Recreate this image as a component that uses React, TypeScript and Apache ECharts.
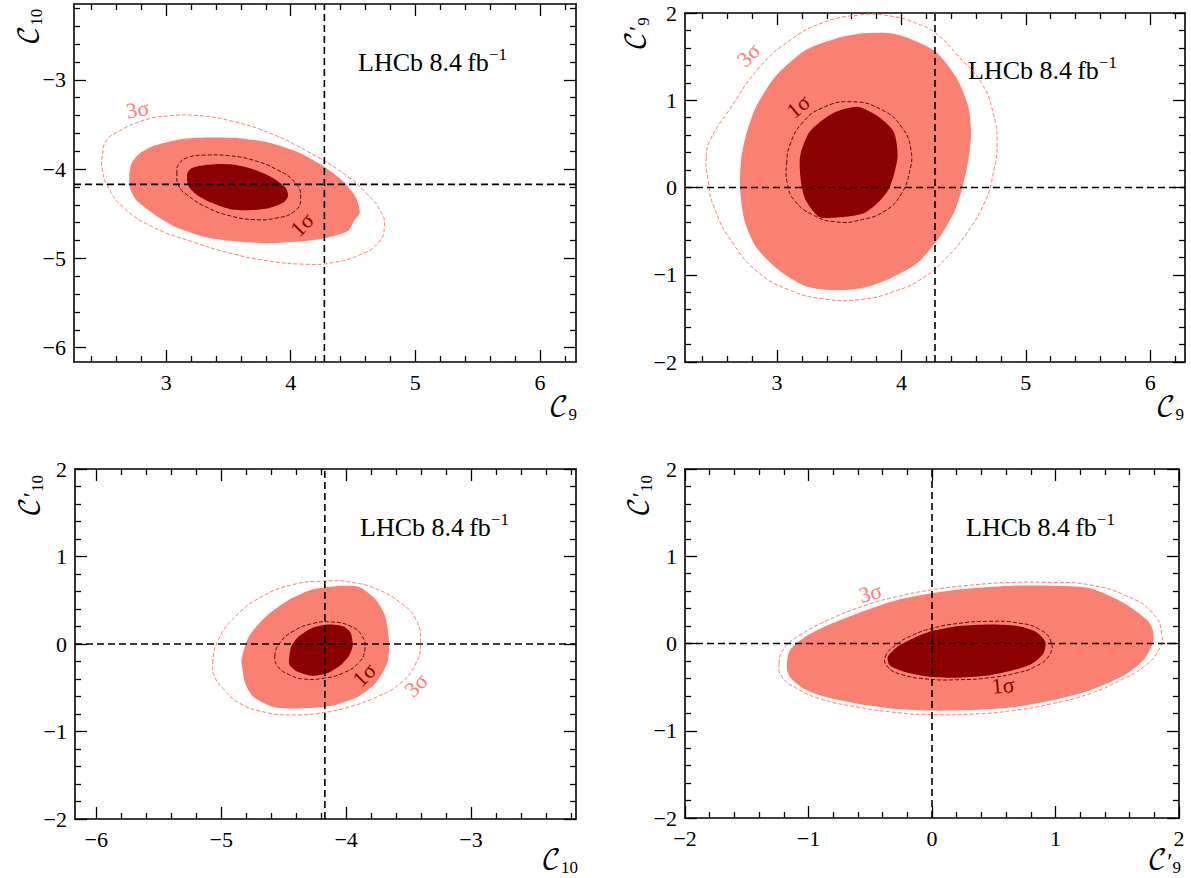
import React, { useEffect, useRef } from "react";
import * as echarts from "echarts";

const SERIF = "Liberation Serif, Times New Roman, DejaVu Serif, serif";
const MATH = "DejaVu Math TeX Gyre, DejaVu Serif, DejaVu Sans, serif";
const CAL = "\u{1D49E}";

// ---------- axis ranges & ticks ----------
const P1_X_RANGE = [2.26, 6.29];
const P1_Y_RANGE = [-6.16, -2.15];
const P2_X_RANGE = [2.26, 6.28];
const P2_Y_RANGE = [-2, 2];
const P3_X_RANGE = [-6.17, -2.16];
const P3_Y_RANGE = [-2, 2];
const P4_X_RANGE = [-2, 2];
const P4_Y_RANGE = [-2, 2];

const P1_X_TICKS = [3, 4, 5, 6];
const P1_Y_TICKS = [-6, -5, -4, -3];
const P2_X_TICKS = [3, 4, 5, 6];
const P2_Y_TICKS = [-2, -1, 0, 1, 2];
const P3_X_TICKS = [-6, -5, -4, -3];
const P3_Y_TICKS = [-2, -1, 0, 1, 2];
const P4_X_TICKS = [-2, -1, 0, 1, 2];
const P4_Y_TICKS = [-2, -1, 0, 1, 2];
const MINOR_STEP = 0.2;

// SM reference values
const SM_C9 = 4.27;
const SM_C10 = -4.17;
const SM_C9P = 0;
const SM_C10P = 0;

// ---------- Panel 1: C9 vs C10 ----------
const p1Fill1 = [[3.168,-4.056],[3.193,-4.0],[3.269,-3.963],[3.391,-3.944],[3.544,-3.951],[3.697,-4.0],[3.85,-4.093],[3.957,-4.205],[3.979,-4.299],[3.942,-4.374],[3.82,-4.437],[3.667,-4.459],[3.514,-4.448],[3.361,-4.374],[3.239,-4.28],[3.177,-4.187]];
const p1Line1 = [[3.086,-4.056],[3.101,-3.944],[3.177,-3.869],[3.3,-3.843],[3.514,-3.851],[3.697,-3.899],[3.881,-4.0],[4.034,-4.149],[4.08,-4.318],[4.034,-4.467],[3.881,-4.549],[3.697,-4.564],[3.514,-4.523],[3.33,-4.43],[3.177,-4.299],[3.101,-4.187]];
const p1Fill2 = [[2.703,-4.093],[2.719,-3.944],[2.78,-3.832],[2.902,-3.739],[3.116,-3.664],[3.33,-3.645],[3.575,-3.653],[3.82,-3.701],[4.064,-3.813],[4.278,-3.981],[4.431,-4.149],[4.523,-4.318],[4.554,-4.486],[4.508,-4.579],[4.462,-4.691],[4.278,-4.773],[4.064,-4.811],[3.82,-4.829],[3.575,-4.811],[3.33,-4.766],[3.086,-4.654],[2.902,-4.504],[2.765,-4.355],[2.713,-4.224]];
const p1Line3 = [[2.489,-3.832],[2.52,-3.682],[2.627,-3.57],[2.81,-3.458],[3.024,-3.402],[3.269,-3.402],[3.514,-3.458],[3.82,-3.589],[4.125,-3.795],[4.431,-4.056],[4.615,-4.28],[4.72,-4.467],[4.752,-4.63],[4.706,-4.82],[4.554,-4.96],[4.339,-5.046],[4.125,-5.065],[3.82,-5.027],[3.514,-4.941],[3.208,-4.811],[2.902,-4.654],[2.657,-4.43],[2.535,-4.205],[2.489,-4.019]];

// ---------- Panel 2: C9 vs C9' ----------
const p2Fill1 = [[3.185,0.352],[3.262,0.639],[3.446,0.849],[3.646,0.925],[3.815,0.811],[3.938,0.639],[3.969,0.352],[3.908,0.008],[3.831,-0.145],[3.692,-0.298],[3.477,-0.344],[3.338,-0.337],[3.231,-0.145],[3.194,0.046]];
const p2Line1 = [[3.077,0.275],[3.108,0.505],[3.2,0.734],[3.354,0.906],[3.6,0.983],[3.846,0.887],[4.0,0.696],[4.077,0.428],[4.062,0.161],[4.0,-0.069],[3.877,-0.26],[3.662,-0.375],[3.477,-0.394],[3.292,-0.317],[3.138,-0.145],[3.083,0.046]];
const p2Fill2 = [[2.702,0.008],[2.714,0.352],[2.754,0.619],[2.831,0.925],[2.985,1.27],[3.231,1.576],[3.477,1.709],[3.692,1.767],[3.908,1.767],[4.062,1.709],[4.277,1.556],[4.446,1.25],[4.538,0.925],[4.56,0.619],[4.538,0.314],[4.492,0.008],[4.431,-0.26],[4.308,-0.566],[4.123,-0.872],[3.877,-1.063],[3.662,-1.159],[3.446,-1.178],[3.231,-1.132],[3.015,-0.948],[2.831,-0.681],[2.738,-0.375]];
const p2Line3 = [[2.431,0.352],[2.462,0.543],[2.615,0.887],[2.862,1.384],[3.108,1.69],[3.354,1.881],[3.662,1.977],[3.908,1.966],[4.123,1.881],[4.277,1.767],[4.462,1.499],[4.646,1.193],[4.738,0.849],[4.769,0.505],[4.738,0.161],[4.677,-0.145],[4.523,-0.528],[4.369,-0.795],[4.185,-1.025],[3.969,-1.178],[3.662,-1.285],[3.354,-1.273],[3.108,-1.178],[2.862,-0.987],[2.646,-0.642],[2.492,-0.222],[2.446,0.084]];

// ---------- Panel 3: C10 vs C10' ----------
const p3Fill1 = [[-4.454,-0.141],[-4.439,-0.027],[-4.378,0.088],[-4.27,0.183],[-4.147,0.222],[-4.025,0.202],[-3.963,0.126],[-3.948,-0.027],[-3.979,-0.141],[-4.04,-0.237],[-4.147,-0.332],[-4.27,-0.363],[-4.393,-0.313],[-4.454,-0.237]];
const p3Line1 = [[-4.571,-0.141],[-4.531,0.011],[-4.424,0.145],[-4.27,0.233],[-4.117,0.252],[-3.963,0.202],[-3.871,0.088],[-3.85,-0.065],[-3.902,-0.218],[-4.025,-0.332],[-4.178,-0.39],[-4.332,-0.401],[-4.454,-0.351],[-4.547,-0.256]];
const p3Fill2 = [[-4.838,-0.18],[-4.777,0.088],[-4.639,0.317],[-4.454,0.508],[-4.27,0.623],[-4.086,0.661],[-3.902,0.653],[-3.764,0.508],[-3.687,0.317],[-3.656,0.011],[-3.671,-0.218],[-3.764,-0.447],[-3.902,-0.6],[-4.117,-0.707],[-4.332,-0.734],[-4.577,-0.722],[-4.746,-0.6],[-4.808,-0.447],[-4.829,-0.294]];
const p3Line3 = [[-5.068,-0.218],[-5.022,0.05],[-4.884,0.317],[-4.669,0.546],[-4.424,0.68],[-4.178,0.718],[-3.963,0.707],[-3.748,0.623],[-3.564,0.47],[-3.441,0.279],[-3.404,0.011],[-3.441,-0.218],[-3.564,-0.447],[-3.748,-0.6],[-3.963,-0.714],[-4.178,-0.783],[-4.393,-0.81],[-4.639,-0.783],[-4.854,-0.676],[-4.976,-0.523],[-5.053,-0.371]];

// ---------- Panel 4: C9' vs C10' ----------
const p4Fill1 = [[-0.358,-0.154],[-0.28,-0.038],[-0.156,0.058],[0,0.142],[0.218,0.2],[0.467,0.219],[0.684,0.204],[0.84,0.135],[0.918,0.019],[0.902,-0.115],[0.809,-0.231],[0.653,-0.308],[0.467,-0.365],[0.218,-0.392],[0,-0.385],[-0.218,-0.327],[-0.342,-0.25]];
const p4Line1 = [[-0.379,-0.154],[-0.295,-0.019],[-0.156,0.096],[0,0.173],[0.218,0.231],[0.467,0.254],[0.684,0.238],[0.871,0.162],[0.964,0.019],[0.949,-0.135],[0.84,-0.262],[0.684,-0.338],[0.467,-0.392],[0.218,-0.415],[-0.031,-0.408],[-0.249,-0.354],[-0.358,-0.269]];
const p4Fill2 = [[-1.176,-0.269],[-1.151,-0.077],[-1.026,0.077],[-0.809,0.231],[-0.529,0.385],[-0.28,0.5],[0,0.577],[0.342,0.635],[0.653,0.662],[0.964,0.662],[1.275,0.635],[1.555,0.462],[1.742,0.269],[1.788,0.154],[1.788,0],[1.711,-0.192],[1.555,-0.365],[1.275,-0.538],[0.964,-0.654],[0.653,-0.731],[0.342,-0.762],[0,-0.769],[-0.28,-0.75],[-0.591,-0.692],[-0.902,-0.596],[-1.058,-0.5],[-1.151,-0.385]];
const p4Line3 = [[-1.238,-0.231],[-1.198,-0.058],[-1.089,0.077],[-0.84,0.269],[-0.529,0.442],[-0.28,0.538],[0,0.615],[0.342,0.673],[0.653,0.7],[0.964,0.7],[1.275,0.673],[1.586,0.538],[1.788,0.346],[1.86,0.115],[1.835,-0.077],[1.711,-0.269],[1.524,-0.423],[1.275,-0.577],[0.964,-0.692],[0.653,-0.769],[0.342,-0.808],[0,-0.815],[-0.28,-0.792],[-0.591,-0.731],[-0.902,-0.635],[-1.089,-0.519],[-1.213,-0.385]];

// sigma label anchors [x, y, rotationDeg, text]
const p1Labels = [[2.77, -3.33, 10, "3σ"], [4.09, -4.62, 45, "1σ"]];
const p2Labels = [[2.77, 1.52, 45, "3σ"], [3.17, 0.93, 40, "1σ"]];
const p3Labels = [[-3.855, -0.35, 45, "1σ"], [-3.44, -0.47, 45, "3σ"]];
const p4Labels = [[-0.5, 0.58, 15, "3σ"], [0.575, -0.48, 5, "1σ"]];

const COL_DARK = "#8b0000";
const COL_SALMON = "#fa8072";
const COL_L1 = "#5a0a0a";
const COL_L3 = "#f7806f";

const GRIDS = [
  { left: 74, top: 4, width: 502, height: 358 },
  { left: 685, top: 13, width: 500, height: 349 },
  { left: 75, top: 469, width: 501, height: 350 },
  { left: 685, top: 469, width: 494, height: 349 },
];

function minorTicks(range: number[], majors: number[]) {
  const out: number[] = [];
  const start = Math.ceil(range[0] / MINOR_STEP - 1e-9);
  const end = Math.floor(range[1] / MINOR_STEP + 1e-9);
  for (let k = start; k <= end; k++) {
    const v = Math.round(k * MINOR_STEP * 1000) / 1000;
    if (!majors.some((m) => Math.abs(m - v) < 1e-6)) out.push(v);
  }
  return out;
}

const fmt = (v: number) => "{t|" + (v < 0 ? "\u2212" + String(Math.abs(v)) : String(v)) + "}";

function axisSet(isX: boolean, gridIndex: number, range: number[], majors: number[]) {
  const minors = minorTicks(range, majors);
  const base = {
    type: "value",
    gridIndex,
    min: range[0],
    max: range[1],
    splitLine: { show: false },
  };
  const line = { show: true, onZero: false, lineStyle: { color: "#000", width: 1.6 } };
  const noLine = { show: false, onZero: false };
  const tickStyle = { color: "#000", width: 1.3 };
  const pos1 = isX ? "bottom" : "left";
  const pos2 = isX ? "top" : "right";
  return [
    {
      ...base,
      position: pos1,
      axisLine: line,
      axisTick: { show: true, inside: true, length: 12, customValues: majors, lineStyle: tickStyle },
      axisLabel: {
        show: true,
        customValues: majors,
        formatter: fmt,
        color: "#000",
        fontFamily: SERIF,
        fontSize: 22,
        margin: 8,
        hideOverlap: false,
        rich: { t: { fontFamily: SERIF, fontSize: 22, color: "#000", lineHeight: 24 } },
      },
    },
    {
      ...base,
      position: pos1,
      axisLine: noLine,
      axisTick: { show: true, inside: true, length: 6, customValues: minors, lineStyle: tickStyle },
      axisLabel: { show: false },
    },
    {
      ...base,
      position: pos2,
      axisLine: line,
      axisTick: { show: true, inside: true, length: 12, customValues: majors, lineStyle: tickStyle },
      axisLabel: { show: false },
    },
    {
      ...base,
      position: pos2,
      axisLine: noLine,
      axisTick: { show: true, inside: true, length: 6, customValues: minors, lineStyle: tickStyle },
      axisLabel: { show: false },
    },
  ];
}

function polySeries(gi: number, pts: number[][], style: any, smooth: number, z: number) {
  return {
    type: "custom",
    xAxisIndex: gi * 4,
    yAxisIndex: gi * 4,
    data: [pts[0]],
    z,
    silent: true,
    renderItem: (_p: any, api: any) => ({
      type: "polygon",
      shape: { points: pts.map((p) => api.coord(p)), smooth },
      style,
    }),
  };
}

function crossSeries(gi: number, xr: number[], yr: number[], xv: number, yv: number) {
  return {
    type: "custom",
    xAxisIndex: gi * 4,
    yAxisIndex: gi * 4,
    data: [[xv, yv]],
    z: 10,
    silent: true,
    renderItem: (_p: any, api: any) => {
      const a = api.coord([xv, yr[0]]);
      const b = api.coord([xv, yr[1]]);
      const c = api.coord([xr[0], yv]);
      const d = api.coord([xr[1], yv]);
      const st = { stroke: "#000", lineWidth: 1.6, lineDash: [7, 4], fill: "none" };
      return {
        type: "group",
        children: [
          { type: "line", shape: { x1: a[0], y1: a[1], x2: b[0], y2: b[1] }, style: st },
          { type: "line", shape: { x1: c[0], y1: c[1], x2: d[0], y2: d[1] }, style: st },
        ],
      };
    },
  };
}

function labelSeries(gi: number, labels: any[]) {
  return {
    type: "custom",
    xAxisIndex: gi * 4,
    yAxisIndex: gi * 4,
    data: labels.map((l) => [l[0], l[1]]),
    z: 12,
    silent: true,
    renderItem: (p: any, api: any) => {
      const l = labels[p.dataIndex];
      const pt = api.coord([l[0], l[1]]);
      return {
        type: "text",
        x: pt[0],
        y: pt[1],
        rotation: (l[2] * Math.PI) / 180,
        style: {
          text: l[3],
          fill: l[3] === "1σ" ? COL_DARK : COL_SALMON,
          fontSize: 22,
          fontFamily: SERIF,
          align: "center",
          verticalAlign: "middle",
        },
      };
    },
  };
}

function panelSeries(gi: number, f2: number[][], l3: number[][], f1: number[][], l1: number[][], xr: number[], yr: number[], xv: number, yv: number, labels: any[]) {
  return [
    polySeries(gi, f2, { fill: COL_SALMON, stroke: "none" }, 0.25, 2),
    polySeries(gi, l3, { fill: "none", stroke: COL_L3, lineWidth: 1, lineDash: [4, 2] }, 0.5, 3),
    polySeries(gi, f1, { fill: COL_DARK, stroke: "none" }, 0.25, 4),
    polySeries(gi, l1, { fill: "none", stroke: COL_L1, lineWidth: 1, lineDash: [4, 2] }, 0.5, 5),
    crossSeries(gi, xr, yr, xv, yv),
    labelSeries(gi, labels),
  ];
}

const nameRich = {
  c: { fontFamily: MATH, fontSize: 27, lineHeight: 30, fill: "#000" },
  p: { fontFamily: SERIF, fontSize: 24, lineHeight: 30, fill: "#000" },
  s: { fontFamily: SERIF, fontSize: 17, lineHeight: 17, verticalAlign: "bottom", fill: "#000" },
};

function nameText(prime: boolean, sub: string, x: number, y: number, vertical: boolean) {
  return {
    type: "text",
    x,
    y,
    rotation: vertical ? Math.PI / 2 : 0,
    silent: true,
    style: {
      text: `{c|${CAL}}${prime ? "{p|\u2032}" : ""}{s|${sub}}`,
      rich: nameRich,
      align: vertical ? "center" : "right",
      verticalAlign: "middle",
    },
  };
}

function lhcbText(x: number, y: number) {
  return {
    type: "text",
    x,
    y,
    silent: true,
    style: {
      text: "{a|LHCb 8.4\u2009fb}{b|\u22121}",
      rich: {
        a: { fontFamily: SERIF, fontSize: 26, lineHeight: 32, fill: "#000" },
        b: { fontFamily: SERIF, fontSize: 17, lineHeight: 17, verticalAlign: "top", fill: "#000" },
      },
      align: "left",
      verticalAlign: "middle",
    },
  };
}

export default function App() {
  const ref = useRef<HTMLDivElement>(null);
  useEffect(() => {
    if (!ref.current) return;
    const chart = echarts.init(ref.current, null, { renderer: "svg" });
    const xAxis = [
      ...axisSet(true, 0, P1_X_RANGE, P1_X_TICKS),
      ...axisSet(true, 1, P2_X_RANGE, P2_X_TICKS),
      ...axisSet(true, 2, P3_X_RANGE, P3_X_TICKS),
      ...axisSet(true, 3, P4_X_RANGE, P4_X_TICKS),
    ];
    const yAxis = [
      ...axisSet(false, 0, P1_Y_RANGE, P1_Y_TICKS),
      ...axisSet(false, 1, P2_Y_RANGE, P2_Y_TICKS),
      ...axisSet(false, 2, P3_Y_RANGE, P3_Y_TICKS),
      ...axisSet(false, 3, P4_Y_RANGE, P4_Y_TICKS),
    ];
    const series = [
      ...panelSeries(0, p1Fill2, p1Line3, p1Fill1, p1Line1, P1_X_RANGE, P1_Y_RANGE, SM_C9, SM_C10, p1Labels),
      ...panelSeries(1, p2Fill2, p2Line3, p2Fill1, p2Line1, P2_X_RANGE, P2_Y_RANGE, SM_C9, SM_C9P, p2Labels),
      ...panelSeries(2, p3Fill2, p3Line3, p3Fill1, p3Line1, P3_X_RANGE, P3_Y_RANGE, SM_C10, SM_C10P, p3Labels),
      ...panelSeries(3, p4Fill2, p4Line3, p4Fill1, p4Line1, P4_X_RANGE, P4_Y_RANGE, SM_C9P, SM_C10P, p4Labels),
    ];
    chart.setOption({
      animation: false,
      backgroundColor: "#fff",
      textStyle: { fontFamily: SERIF, fontSize: 22, color: "#000" },
      grid: GRIDS.map((g) => ({ ...g, containLabel: false })),
      xAxis,
      yAxis,
      series,
      graphic: [
        nameText(false, "10", 30, 27, true),
        nameText(false, "9", 577, 408, false),
        nameText(true, "9", 637, 34, true),
        nameText(false, "9", 1184, 408, false),
        nameText(true, "10", 31, 496, true),
        nameText(false, "10", 578, 861, false),
        nameText(true, "10", 640, 496, true),
        nameText(true, "9", 1181, 861, false),
        lhcbText(358, 62),
        lhcbText(968, 70),
        lhcbText(360, 527),
        lhcbText(966, 527),
      ],
    });
    return () => chart.dispose();
  }, []);
  return (
    <div
      ref={ref}
      style={{ position: "fixed", left: 0, top: 0, width: 1191, height: 878, background: "#fff" }}
    />
  );
}
